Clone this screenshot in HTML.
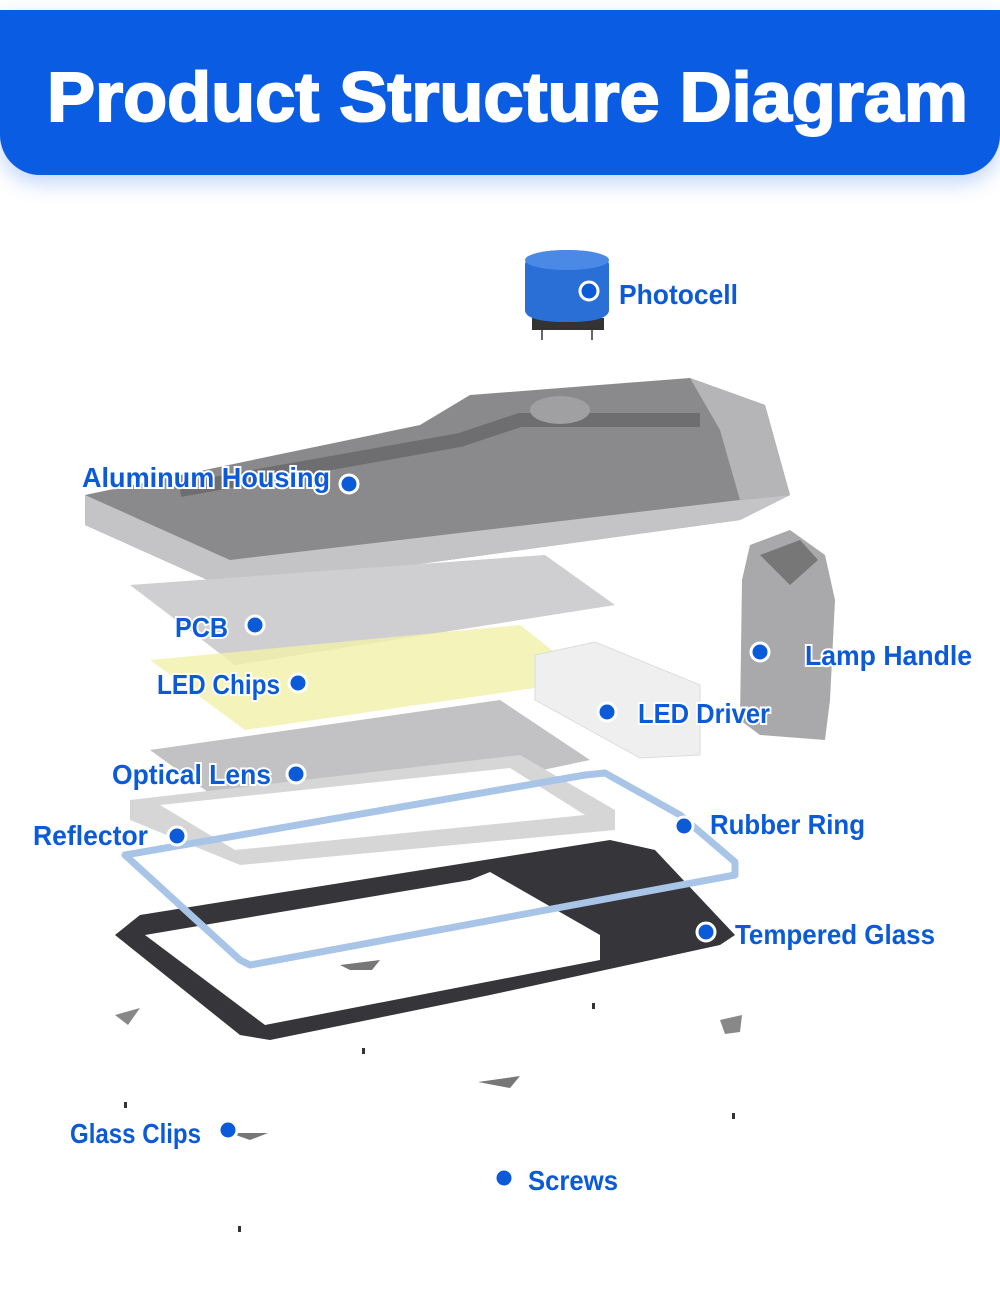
<!DOCTYPE html>
<html><head><meta charset="utf-8"><style>
body{margin:0;background:#fff;width:1000px;height:1292px;overflow:hidden;font-family:"Liberation Sans",sans-serif}
.hdr{position:absolute;left:0;top:10px;width:1000px;height:165px;background:#0a5ce2;border-radius:0 0 40px 40px;box-shadow:0 8px 20px rgba(10,92,226,.25)}
svg{position:absolute;left:0;top:0}
.l{font-family:"Liberation Sans",sans-serif;font-size:28px;font-weight:bold;fill:#0b5ad8;stroke:#fff;stroke-width:4;paint-order:stroke}
.t{font-family:"Liberation Sans",sans-serif;font-size:70px;font-weight:bold;fill:#fff;stroke:#fff;stroke-width:2}
</style></head><body>
<div class="hdr"></div>
<svg width="1000" height="1292" viewBox="0 0 1000 1292">
<text class="t" x="47" y="121" textLength="921" lengthAdjust="spacingAndGlyphs">Product Structure Diagram</text>
<!-- photocell -->
<rect x="532" y="318" width="72" height="12" fill="#333"/>
<path d="M525 265 Q525 250 567 250 Q609 250 609 265 L609 310 Q609 322 567 322 Q525 322 525 310Z" fill="#2a6fd6"/>
<ellipse cx="567" cy="260" rx="42" ry="10" fill="#4a8ae6"/>
<line x1="542" y1="330" x2="542" y2="340" stroke="#666" stroke-width="2"/><line x1="592" y1="330" x2="592" y2="340" stroke="#666" stroke-width="2"/>
<!-- housing -->
<path d="M85 495 L420 425 L470 395 L690 378 L765 405 L790 495 L740 520 L230 590 L85 525Z" fill="#8a8a8c"/>
<path d="M85 495 L230 560 L740 500 L790 495 L740 520 L230 590 L85 525Z" fill="#c4c4c6"/>
<path d="M690 378 L765 405 L790 495 L740 500 L720 430Z" fill="#b5b5b7"/>
<path d="M180 490 L460 440 L520 420 L700 420" stroke="#6e6e70" stroke-width="14" fill="none"/>
<ellipse cx="560" cy="410" rx="30" ry="14" fill="#a0a0a2"/>
<!-- PCB -->
<path d="M130 585 L545 555 L615 605 L235 665Z" fill="#cfcfd1"/>
<!-- LED chips -->
<path d="M150 660 L520 625 L590 680 L245 730Z" fill="#f1f0a8" opacity=".8"/>
<!-- driver -->
<path d="M535 655 L595 642 L700 685 L700 755 L640 758 L535 700Z" fill="#efefef" stroke="#ddd"/>
<!-- handle -->
<path d="M750 545 L790 530 L825 555 L835 600 L830 700 L825 740 L760 735 L740 720 L742 580Z" fill="#a9a9ab"/>
<path d="M760 555 L800 540 L818 560 L790 585Z" fill="#777"/>
<!-- optical lens -->
<path d="M150 750 L500 700 L590 760 L260 830Z" fill="#c2c2c4"/>
<!-- reflector -->
<path d="M130 800 L520 755 L615 810 L615 830 L240 865 L130 820Z" fill="#d6d6d6"/>
<path d="M160 805 L510 768 L585 815 L235 850Z" fill="#fff"/>
<!-- tempered glass -->
<path d="M115 935 L140 915 L610 840 L655 850 L735 935 L720 945 L490 995 L270 1040 L240 1035Z" fill="#35353a"/>
<path d="M145 935 L470 880 L490 872 L600 935 L600 960 L265 1025Z" fill="#fff"/>
<!-- rubber ring -->
<path d="M125 855 L585 775 L605 773 L680 815 L735 862 L735 875 L250 965 L240 960Z" fill="none" stroke="#a8c4e6" stroke-width="7" stroke-linejoin="round"/>
<!-- clips/screws -->
<path d="M340 965 L380 960 L372 970 L350 970Z" fill="#777"/>
<path d="M115 1015 L140 1008 L128 1025Z" fill="#888"/>
<path d="M720 1020 L742 1015 L740 1032 L725 1034Z" fill="#888"/>
<path d="M478 1082 L520 1076 L510 1088Z" fill="#777"/>
<path d="M230 1133 L268 1133 L250 1140Z" fill="#777"/>
<rect x="362" y="1048" width="3" height="6" fill="#333"/><rect x="592" y="1003" width="3" height="6" fill="#333"/><rect x="124" y="1102" width="3" height="6" fill="#333"/><rect x="732" y="1113" width="3" height="6" fill="#333"/><rect x="238" y="1226" width="3" height="6" fill="#333"/><rect x="496" y="1172" width="3" height="6" fill="#333"/>
<g class="l">
<text x="619" y="304" textLength="119" lengthAdjust="spacingAndGlyphs">Photocell</text>
<text x="82" y="487" textLength="248" lengthAdjust="spacingAndGlyphs">Aluminum Housing</text>
<text x="175" y="637" textLength="53" lengthAdjust="spacingAndGlyphs">PCB</text>
<text x="157" y="694" textLength="123" lengthAdjust="spacingAndGlyphs">LED Chips</text>
<text x="805" y="665" textLength="167" lengthAdjust="spacingAndGlyphs">Lamp Handle</text>
<text x="638" y="723" textLength="132" lengthAdjust="spacingAndGlyphs">LED Driver</text>
<text x="112" y="784" textLength="159" lengthAdjust="spacingAndGlyphs">Optical Lens</text>
<text x="33" y="845" textLength="115" lengthAdjust="spacingAndGlyphs">Reflector</text>
<text x="710" y="834" textLength="155" lengthAdjust="spacingAndGlyphs">Rubber Ring</text>
<text x="735" y="944" textLength="200" lengthAdjust="spacingAndGlyphs">Tempered Glass</text>
<text x="70" y="1143" textLength="131" lengthAdjust="spacingAndGlyphs">Glass Clips</text>
<text x="528" y="1190" textLength="90" lengthAdjust="spacingAndGlyphs">Screws</text>
</g>
<g fill="#0b5ad8" stroke="#fff" stroke-width="3">
<circle cx="589" cy="291" r="9"/><circle cx="349" cy="484" r="9"/><circle cx="255" cy="625" r="9"/><circle cx="298" cy="683" r="9"/><circle cx="760" cy="652" r="9"/><circle cx="607" cy="712" r="9"/><circle cx="296" cy="774" r="9"/><circle cx="177" cy="836" r="9"/><circle cx="684" cy="826" r="9"/><circle cx="706" cy="932" r="9"/><circle cx="228" cy="1130" r="9"/><circle cx="504" cy="1178" r="9"/>
</g>
</svg>
</body></html>
